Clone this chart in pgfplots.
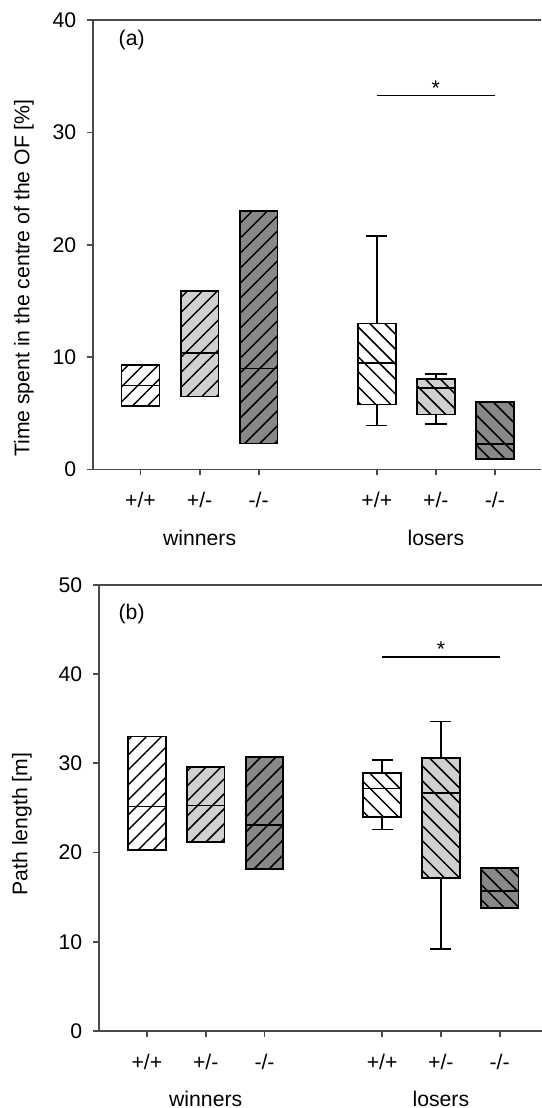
\documentclass[border=0pt]{standalone}
\usepackage{fontspec}
\setmainfont{Liberation Sans}
\usepackage{pgfplots}
\pgfplotsset{compat=1.18}
\usetikzlibrary{patterns.meta}
\usepgfplotslibrary{statistics}

\definecolor{lgray}{HTML}{D0D0D0}
\definecolor{dgray}{HTML}{888888}
\definecolor{axgray}{HTML}{4A4A4A}

\newcommand{\fs}{\fontsize{10.6}{12}\selectfont}

% pos, lower whisker, lower quartile, median, upper quartile, upper whisker, fill, hatch angle
\newcommand{\bx}[8]{%
  \addplot[black, line width=0.85pt, solid,
    boxplot prepared={draw position=#1, lower whisker=#2, lower quartile=#3,
      median=#4, upper quartile=#5, upper whisker=#6,
      box extend=0.64, whisker extend=0.36, draw direction=y},
    boxplot/every box/.style={draw=black, line width=0.85pt, fill=#7,
      postaction={pattern={Lines[angle=#8,distance=5.3pt,line width=0.75pt]}, pattern color=black}},
    boxplot/every median/.style={black, line width=0.8pt},
    boxplot/every whisker/.style={black, line width=0.85pt}
  ] coordinates {};
}

\pgfplotsset{
  panel/.style={
    scale only axis, clip=false,
    axis x line*=bottom, axis y line*=left,
    axis line style={-, axgray, line width=0.9pt},
    tick align=outside, major tick length=3pt,
    tick style={axgray, line width=0.9pt},
    xtick={1,2,3,5,6,7},
    xticklabels={+/+,+/-,-/-,+/+,+/-,-/-},
    ticklabel style={font=\fs},
    label style={font=\fs},
    /pgf/number format/assume math mode=true,
    xticklabel style={yshift=-5pt},
    yticklabel style={xshift=-2pt},
    ylabel style={anchor=center},
  }
}

\begin{document}
\begin{tikzpicture}
% ---------------- panel (a)
\begin{axis}[panel,
  at={(46.65pt,319.25pt)}, anchor=south west,
  width=223.85pt, height=224.6pt,
  xmin=0.2, xmax=7.78, ymin=0, ymax=40,
  ytick={0,10,20,30,40},
  ylabel={Time spent in the centre of the OF [\%]},
  ylabel style={at={(axis description cs:-0.155,0.426)}},
]
\draw[axgray, line width=0.9pt] (rel axis cs:0,1) -- (rel axis cs:1,1);
\bx{1}{5.67}{5.67}{7.48}{9.29}{9.29}{white}{45}
\bx{2}{6.5}{6.5}{10.36}{15.9}{15.9}{lgray}{45}
\bx{3}{2.31}{2.31}{9.0}{23.0}{23.0}{dgray}{45}
\bx{5}{3.92}{5.79}{9.47}{13.0}{20.8}{white}{-45}
\bx{6}{4.04}{4.9}{7.24}{8.07}{8.49}{lgray}{-45}
\bx{7}{0.95}{0.95}{2.28}{6.0}{6.0}{dgray}{-45}
\addplot[black, line width=0.9pt, no marks] coordinates {(5,33.3) (7,33.3)};
\node[font=\fs, anchor=south, inner sep=0pt] at (axis cs:6,33.3) {*};
\node[font=\fs] at (axis cs:0.85,38.2) {(a)};
\node[font=\fs] at (axis cs:2,0) [yshift=-34pt] {winners};
\node[font=\fs] at (axis cs:6,0) [yshift=-34pt] {losers};
\end{axis}
% ---------------- panel (b)
\begin{axis}[panel,
  at={(49.65pt,38.5pt)}, anchor=south west,
  width=221.35pt, height=223pt,
  xmin=0.19, xmax=7.72, ymin=0, ymax=50,
  ytick={0,10,20,30,40,50},
  ylabel={Path length [m]},
  ylabel style={at={(axis description cs:-0.1746,0.464)}},
]
\draw[axgray, line width=0.9pt] (rel axis cs:0,1) -- (rel axis cs:1,1);
\bx{1}{20.3}{20.3}{25.16}{33.0}{33.0}{white}{45}
\bx{2}{21.2}{21.2}{25.3}{29.6}{29.6}{lgray}{45}
\bx{3}{18.2}{18.2}{23.1}{30.7}{30.7}{dgray}{45}
\bx{5}{22.6}{24.0}{27.2}{28.9}{30.4}{white}{-45}
\bx{6}{9.19}{17.15}{26.7}{30.6}{34.7}{lgray}{-45}
\bx{7}{13.8}{13.8}{15.7}{18.25}{18.25}{dgray}{-45}
\addplot[black, line width=0.9pt, no marks] coordinates {(5,41.9) (7,41.9)};
\node[font=\fs, anchor=south, inner sep=0pt] at (axis cs:6,41.9) {*};
\node[font=\fs] at (axis cs:0.74,46.8) {(b)};
\node[font=\fs] at (axis cs:2,0) [yshift=-34pt] {winners};
\node[font=\fs] at (axis cs:6,0) [yshift=-34pt] {losers};
\end{axis}
\pgfresetboundingbox
\useasboundingbox (0,0) rectangle (270.5pt,554pt);
\end{tikzpicture}
\end{document}
